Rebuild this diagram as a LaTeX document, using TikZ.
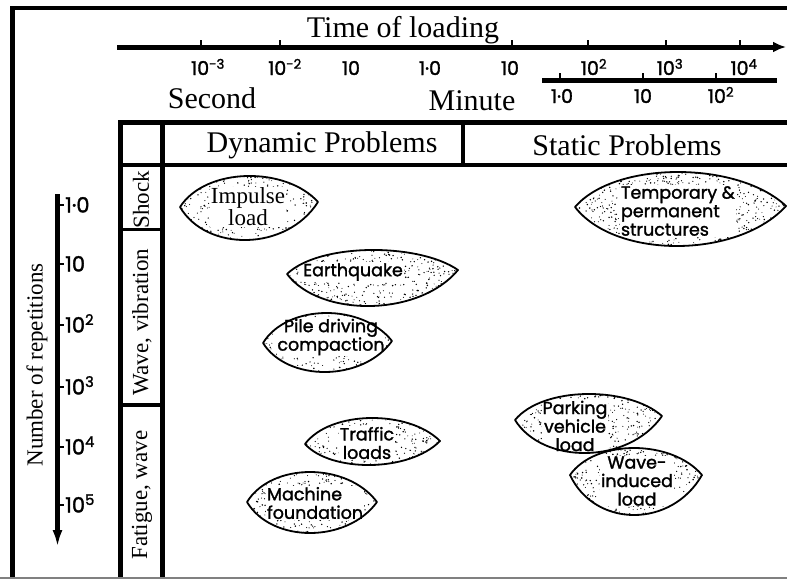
\documentclass[tikz,border=0pt]{standalone}
\usepackage{fontspec}
\setmainfont{Liberation Serif}
\newfontfamily\handfont[FakeBold=1.6]{Poppins}
\usetikzlibrary{arrows.meta}

\tikzset{
  heading/.style={font=\fontsize{30}{32}\selectfont, inner sep=0pt},
  sidelabel/.style={font=\fontsize{23}{25}\selectfont, rotate=90, inner sep=0pt},
  tnum/.style={font=\handfont\fontsize{19}{21}\selectfont, inner sep=0pt, anchor=base},
  rnum/.style={font=\handfont\fontsize{21}{23}\selectfont, inner sep=0pt, anchor=base west},
  leaftext/.style={font=\handfont\fontsize{17.5}{18.5}\selectfont, align=center, fill=white, inner sep=0.8pt},
  serifleaf/.style={font=\fontsize{23}{19}\selectfont, align=center, fill=white, inner sep=0.8pt},
  framerule/.style={line width=4.5pt},
  thinrule/.style={line width=3.5pt},
  tickmark/.style={line width=1.2pt},
}

% stippled lens: left tip, right tip, top y, bottom y, seed, label
\newcommand\leaf[8]{%
  \pgfmathsetmacro\lfw{#3-#1}%
  \pgfmathsetmacro\lfm{(#2+#4)/2}%
  \pgfmathsetmacro\lft{\lfm+(#5-\lfm)/0.75}%
  \pgfmathsetmacro\lfb{\lfm+(#6-\lfm)/0.75}%
  \pgfmathsetmacro\lfa{#1+0.19*\lfw}%
  \pgfmathsetmacro\lfc{#3-0.23*\lfw}%
  \pgfmathtruncatemacro\lfn{0.7*\lfw*(#6-#5)/15}%
  \def\lfpath{(#1,#2) .. controls (\lfa,\lft) and (\lfc,\lft) .. (#3,#4) .. controls (\lfc,\lfb) and (\lfa,\lfb) .. cycle}%
  \fill[white] \lfpath;
  \begin{scope}
    \clip \lfpath;
    \pgfmathsetseed{#7}%
    \foreach \k in {1,...,\lfn}{%
      \pgfmathsetmacro\px{#1+rnd*\lfw}%
      \pgfmathsetmacro\py{#5+rnd*(#6-#5)}%
      \pgfmathsetmacro\pr{0.45+0.4*rnd}%
      \fill (\px,\py) circle[radius=\pr pt];}
  \end{scope}
  #8
  \draw[line width=1.8pt, line join=round] \lfpath;
}

\begin{document}
\begin{tikzpicture}[x=1pt,y=-1pt]
\useasboundingbox (0,0) rectangle (787,579);
\fill[white] (0,0) rectangle (787,579);

% outer frame
\draw[framerule] (12.5,577) -- (12.5,8) -- (787,8);
\draw[gray, line width=1.5pt] (0,577.8) -- (787,577.8);

% time axes
\draw[line width=5pt, -{Latex[length=13pt,width=11pt]}] (117,47) -- (786,47);
\foreach \tx in {201,280,512,588,666,740}{\draw[tickmark] (\tx,40) -- (\tx,45);}
\draw[line width=5pt] (542,80.5) -- (777,80.5);
\foreach \tx in {560,643,716}{\draw[tickmark] (\tx,73) -- (\tx,78.5);}

\node[heading, anchor=base] (tol) at (403,37) {Time of loading};
\node[tnum] (s1) at (208,75) {10\textsuperscript{-3}};
\node[tnum] (s2) at (285,75) {10\textsuperscript{-2}};
\node[tnum] (s3) at (351,75) {10};
\node[tnum] (s4) at (430,75) {1·0};
\node[tnum] (s5) at (510,75) {10};
\node[tnum] (s6) at (594,75) {10\textsuperscript{2}};
\node[tnum] (s7) at (670,75) {10\textsuperscript{3}};
\node[tnum] (s8) at (744,75) {10\textsuperscript{4}};
\node[tnum] (m1) at (562,103) {1·0};
\node[tnum] (m2) at (643,103) {10};
\node[tnum] (m3) at (721,103) {10\textsuperscript{2}};
\node[heading, anchor=base] (sec) at (212,108) {Second};
\node[heading, anchor=base] (min) at (472,110) {Minute};

% table grid
\draw[framerule] (118,122.5) -- (787,122.5);
\draw[line width=4pt] (118,164.5) -- (787,164.5);
\draw[framerule] (120.5,120.5) -- (120.5,577);
\draw[framerule] (162.5,122) -- (162.5,577);
\draw[framerule] (463,122) -- (463,165);
\draw[thinrule] (120,229.5) -- (163,229.5);
\draw[thinrule] (120,405) -- (163,405);

\node[heading] (dyn) at (322,145) {Dynamic Problems};
\node[heading] (sta) at (627,145) {Static Problems};

\node[sidelabel] (shock) at (141,200) {Shock};
\node[sidelabel] (wvib) at (142,322) {Wave, vibration};
\node[sidelabel] (fat) at (142,495) {Fatigue, wave};

% repetitions axis
\node[sidelabel] (nrep) at (37,365) {Number of repetitions};
\draw[line width=5pt, -{Latex[length=17pt,width=10pt]}] (57.5,194) -- (57.5,547);
\foreach \ty in {205,264,325,387,447,505}{\draw[tickmark] (60,\ty) -- (64,\ty);}
\node[rnum] (r1) at (65,212.5) {1·0};
\node[rnum] (r2) at (65,271.5) {10};
\node[rnum] (r3) at (65,332.5) {10\textsuperscript{2}};
\node[rnum] (r4) at (65,394.5) {10\textsuperscript{3}};
\node[rnum] (r5) at (65,454.5) {10\textsuperscript{4}};
\node[rnum] (r6) at (65,512.5) {10\textsuperscript{5}};

% loading cases
\leaf{180}{207}{318}{202}{176}{240}{11}
  {\node[serifleaf] (imp) at (248,207) {Impulse\\load};}
\leaf{287}{274}{458}{270}{250}{306}{12}
  {\node[leaftext] (eq) at (353,272) {Earthquake};}
\leaf{263}{343}{392}{341}{313}{372}{13}
  {\node[leaftext] (pile) at (331,337) {Pile driving\\compaction};}
\leaf{305}{444}{440}{441}{418}{465}{14}
  {\node[leaftext] (traf) at (367,443) {Traffic\\loads};}
\leaf{247}{502}{377}{502}{472}{533}{15}
  {\node[leaftext, align=left, anchor=west] (mach) at (266,503) {Machine\\foundation};}
\leaf{575}{207}{786}{206}{172}{246}{16}
  {\node[leaftext, align=left, anchor=west] (temp) at (620,211) {Temporary \&\\permanent\\structures};}
\leaf{515}{420}{662}{416}{394}{453}{17}
  {\node[leaftext] (park) at (575,426) {Parking\\vehicle\\load};}
\leaf{570}{475}{702}{475}{448}{515}{18}
  {\node[leaftext] (wave) at (637,481) {Wave-\\induced\\load};}
\end{tikzpicture}
\end{document}
